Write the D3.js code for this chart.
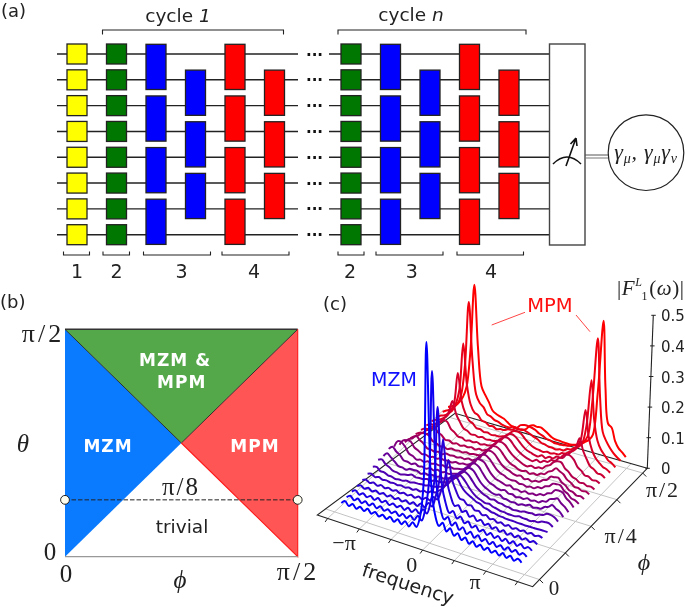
<!DOCTYPE html>
<html><head><meta charset="utf-8">
<script src="https://cdn.jsdelivr.net/npm/d3@7"></script>
<style>
html,body{margin:0;padding:0;background:#fff}
svg{display:block;filter:blur(0.3px)}
text{font-family:"DejaVu Sans",sans-serif;fill:#222}
.m{font-family:"Liberation Serif",serif}
</style></head><body><svg id="c" width="685" height="609"></svg>
<script>
// ---------- data ----------
const wires = [0,1,2,3,4,5,6,7];
const stepLabels = ["1","2","3","4"];
const cycleLabels = ["1","n"];
const thetaTicks = ["0","π/2"];
const regions = ["MZM","MZM & MPM","MPM","trivial"];
const zTicks = [0,0.1,0.2,0.3,0.4,0.5];
const freqTicks = [-1.5,-1,-0.5,0,0.5,1,1.5];       // units of pi
const phiTicks = [0,0.25,0.5,0.75,1];               // units of pi/2
const rowPhi = [0.02,0.071,0.122,0.173,0.224,0.275,0.326,0.377,0.428,0.479,0.53,0.581,0.632,0.683,0.734,0.785,0.836,0.887,0.938,0.989,1.04];
// |F| amplitude in thousandths, front (phi small) to back; samples run over frequency -1.42pi..1.42pi
const spectra = [
[28,38,26,37,25,36,26,37,25,35,24,34,24,35,23,35,23,37,24,42,30,68,180,647,190,90,58,72,48,62,42,54,36,48,32,44,30,41,28,39,27,37,26,38,26,37,25,35,26],
[30,39,28,38,27,37,27,38,26,37,26,35,26,36,25,36,26,39,28,46,34,76,165,535,170,95,62,74,50,64,44,56,38,50,34,46,31,42,29,40,28,38,27,39,28,38,27,36,28],
[32,40,30,39,30,38,29,39,29,38,28,37,29,38,28,39,29,42,32,50,40,80,150,400,155,95,66,76,56,66,48,58,42,52,37,47,34,44,32,42,30,41,30,41,30,40,30,38,30],
[34,40,33,40,32,39,32,39,31,39,31,38,31,39,31,40,32,44,36,54,46,84,140,278,145,98,72,78,60,68,52,60,46,54,41,49,37,46,35,44,33,42,33,42,33,41,33,40,33],
[37,42,35,41,34,40,34,39,34,39,33,39,34,40,34,42,37,46,42,56,52,84,125,193,130,100,78,78,66,68,56,58,48,52,43,47,39,44,37,43,35,41,36,41,35,41,35,40,36],
[41,45,38,42,37,39,36,38,35,38,35,39,36,41,38,44,42,50,50,60,70,92,115,125,118,98,84,76,70,62,60,52,50,45,44,40,40,38,38,38,37,37,36,37,37,37,38,38,38],
[48,51,41,41,35,35,31,33,33,37,35,39,39,41,41,45,45,48,52,58,68,88,106,112,104,90,74,62,54,50,45,47,41,39,35,35,33,33,33,37,35,35,33,37,37,43,45,45,37],
[54,59,47,41,33,32,29,33,35,40,35,37,37,41,39,44,45,46,50,56,66,84,100,104,98,84,68,58,50,46,40,43,37,37,33,33,29,31,31,35,35,37,35,41,43,51,51,47,37],
[50,63,53,43,32,32,28,35,35,36,30,36,34,38,36,40,38,42,46,50,60,80,96,99,94,78,62,52,46,40,38,42,34,34,30,32,28,34,34,40,34,38,38,48,52,62,54,48,34],
[57,68,56,48,34,34,30,36,30,33,30,36,32,38,34,38,36,40,44,48,58,78,92,96,90,74,58,48,44,38,36,40,32,34,28,32,30,36,32,36,34,42,44,56,60,66,54,46,32],
[48,70,70,58,40,36,28,32,28,34,30,34,32,36,32,38,36,40,42,46,56,76,90,92,88,72,56,46,42,38,34,38,30,32,28,34,30,34,32,40,40,50,54,68,70,68,52,44,30],
[38,56,60,60,44,38,30,32,28,32,30,34,32,34,32,38,36,40,40,46,54,74,88,90,82,68,54,46,42,36,34,36,30,32,28,32,30,38,38,48,52,64,66,66,52,46,34,32,24],
[30,44,50,62,52,44,32,32,28,32,28,34,32,34,32,36,34,40,38,44,52,72,84,86,80,66,52,44,40,34,32,36,28,32,28,34,34,44,48,62,64,66,54,48,36,34,26,28,22],
[26,36,42,54,58,54,40,36,30,32,28,34,32,34,32,36,34,38,38,42,50,70,82,84,78,64,50,42,38,32,30,34,28,34,32,40,42,54,60,72,66,60,46,40,30,30,24,26,20],
[24,32,36,48,54,64,52,46,34,36,30,34,30,34,32,36,32,38,36,42,50,68,80,82,76,62,50,42,36,30,28,34,30,36,36,48,54,68,74,74,58,50,38,34,26,28,22,24,18],
[22,30,32,44,48,66,76,74,54,46,36,36,30,34,32,36,32,36,36,40,48,66,76,80,74,60,48,40,34,30,28,36,32,40,40,50,50,64,68,82,82,72,52,44,32,32,24,26,20],
[20,28,30,40,46,64,84,125,86,64,46,42,34,36,32,36,32,34,34,38,44,60,70,74,68,56,44,36,32,28,26,34,28,36,34,44,44,58,62,76,90,125,88,64,44,38,28,28,20],
[18,26,30,38,48,68,98,200,113,76,56,50,38,38,32,34,30,32,32,36,40,54,64,66,62,50,40,32,28,26,24,28,26,30,30,38,40,50,56,70,103,200,118,76,54,42,32,28,20],
[16,24,28,38,50,76,128,280,148,88,66,60,46,44,36,38,32,36,36,42,44,52,52,56,52,48,42,38,30,28,24,24,22,26,26,34,36,46,52,68,128,280,153,90,64,50,36,30,20],
[16,24,30,42,56,90,188,400,213,105,80,70,50,46,38,36,30,28,28,34,34,46,50,50,48,44,36,32,26,24,20,20,20,22,24,30,34,44,52,72,188,400,213,100,74,56,42,32,24],
[16,22,30,42,62,100,220,440,240,115,90,70,46,38,34,30,22,14,12,10,10,16,30,36,34,36,30,22,14,10,10,8,8,8,10,14,20,30,40,60,200,440,225,110,100,60,40,30,18]
];

const svg = d3.select("#c");
const ink = "#222";
function label(x,y,t,size,opts={}){
  const e = svg.append("text").attr("x",x).attr("y",y).attr("font-size",size).text(t);
  if(opts.cls) e.attr("class",opts.cls);
  e.attr("text-anchor",opts.anchor||"middle");
  if(opts.italic) e.attr("font-style","italic");
  if(opts.weight) e.attr("font-weight",opts.weight);
  if(opts.fill) e.style("fill",opts.fill);
  if(opts.ls) e.attr("letter-spacing",opts.ls);
  if(opts.rot) e.attr("transform",`rotate(${opts.rot} ${x} ${y})`);
  return e;
}

// ---------- (a) circuit ----------
label(1,17,"(a)",18,{anchor:"start"});
const wy = d3.scaleLinear().domain([0,7]).range([54,234.7]);
const wireLeft = 57;
const a = svg.append("g");
a.selectAll(".w1").data(wires).join("line").attr("x1",wireLeft).attr("x2",298).attr("y1",wy).attr("y2",wy).attr("stroke",ink).attr("stroke-width",1.4);
a.selectAll(".w2").data(wires).join("line").attr("x1",329).attr("x2",549).attr("y1",wy).attr("y2",wy).attr("stroke",ink).attr("stroke-width",1.4);
wires.forEach(w=>label(314.5,wy(w)+1,"···",15,{weight:"bold",fill:"#111"}).attr("dominant-baseline","middle"));
const slot1 = d3.scaleLinear().domain([0,5]).range([77,274.5]);
const slot2 = d3.scaleLinear().domain([1,5]).range([351,509]);
function gates(xc,color,pairs){
  pairs.forEach(p=>{
    const y0 = p.length===1 ? wy(p[0])-10 : wy(p[0])-9.7;
    const y1 = p.length===1 ? wy(p[0])+10 : wy(p[1])+9.7;
    a.append("rect").attr("x",xc-10).attr("width",20).attr("y",y0).attr("height",y1-y0)
      .attr("fill",color).attr("stroke","#222").attr("stroke-width",1.3);
  });
}
const singles = wires.map(w=>[w]);
const evenPairs=[[0,1],[2,3],[4,5],[6,7]], oddPairs=[[1,2],[3,4],[5,6]];
gates(slot1(0),"#ffff00",singles);
gates(slot1(1),"#007700",singles);
gates(slot1(2),"#0000ff",evenPairs);
gates(slot1(3),"#0000ff",oddPairs);
gates(slot1(4),"#ff0000",evenPairs);
gates(slot1(5),"#ff0000",oddPairs);
gates(slot2(1),"#007700",singles);
gates(slot2(2),"#0000ff",evenPairs);
gates(slot2(3),"#0000ff",oddPairs);
gates(slot2(4),"#ff0000",evenPairs);
gates(slot2(5),"#ff0000",oddPairs);

function bracketTop(x0,x1,y){a.append("path").attr("d",`M${x0},${y+4.5}V${y}H${x1}V${y+4.5}`).attr("fill","none").attr("stroke",ink).attr("stroke-width",1.1);}
function bracketBot(x0,x1,y){a.append("path").attr("d",`M${x0},${y-3.5}V${y}H${x1}V${y-3.5}`).attr("fill","none").attr("stroke",ink).attr("stroke-width",1.1);}
bracketTop(102.5,283.5,30); bracketTop(338,526,30);
[[63.5,89.5,77,0],[103,129.5,116.5,1],[143.5,210.5,181.5,2],[222,289,254,3],[338,364,350,1],[376,443,411.7,2],[457,523.5,491,3]]
 .forEach(b=>{bracketBot(b[0],b[1],255); label(b[2],277.5,stepLabels[b[3]],19);});
const c1=label(178,22,"cycle ",18.5); c1.append("tspan").attr("font-style","italic").text(cycleLabels[0]);
const c2=label(411,21,"cycle ",18.5); c2.append("tspan").attr("font-style","italic").text(cycleLabels[1]);

a.append("rect").attr("x",549.5).attr("y",44).attr("width",35.5).attr("height",201).attr("fill","#fff").attr("stroke","#444").attr("stroke-width",1.4);
a.append("path").attr("d","M553,164Q567,150 581,164").attr("fill","none").attr("stroke","#111").attr("stroke-width",1.6);
a.append("path").attr("d","M566,166L576,138M576,138L570.5,144M576,138L577,146").attr("fill","none").attr("stroke","#111").attr("stroke-width",1.6);
a.append("line").attr("x1",585).attr("x2",608).attr("y1",155).attr("y2",155).attr("stroke","#555").attr("stroke-width",1);
a.append("line").attr("x1",585).attr("x2",608).attr("y1",158).attr("y2",158).attr("stroke","#777").attr("stroke-width",1);
a.append("circle").attr("cx",646).attr("cy",152.7).attr("r",37.8).attr("fill","#fff").attr("stroke","#222").attr("stroke-width",1.2);
const gam = label(646,159,"",22,{cls:"m",ls:0.8});
[["γ",0],["μ",1],[", γ",0],["μ",1],["γ",0],["ν",1]].forEach((s,i)=>{
  const t=gam.append("tspan").text(s[0]).attr("font-style","italic");
  if(s[1]){t.attr("font-size",14).attr("dy",4);}
  else if(i>0){t.attr("dy",-4);}
});

// ---------- (b) phase diagram ----------
label(0,308,"(b)",18,{anchor:"start"});
const px = d3.scaleLinear().domain([0,1]).range([65,297.7]);
const py = d3.scaleLinear().domain([0,1]).range([556.7,329.3]);
const line2 = d3.line().x(d=>px(d[0])).y(d=>py(d[1]));
const tri = [
 {f:"#0a7bff",p:[[0,0],[0.5,0.5],[0,1]]},
 {f:"#55a84a",p:[[0,1],[1,1],[0.5,0.5]]},
 {f:"#ff5555",p:[[1,0],[0.5,0.5],[1,1]]}];
svg.selectAll(".tri").data(tri).join("path").attr("d",d=>line2(d.p)+"Z").attr("fill",d=>d.f);
svg.append("path").attr("d",line2([[0,1],[1,1]])).attr("stroke","#333").attr("stroke-width",1.6).attr("fill","none");
svg.append("path").attr("d",line2([[0,1],[0.5,0.5],[1,1]])).attr("stroke","#222").attr("stroke-width",0.9).attr("fill","none");
svg.append("path").attr("d",line2([[0.5,0.5],[1,0],[1,1]])).attr("stroke","#ff1a1a").attr("stroke-width",1.1).attr("fill","none");
svg.append("path").attr("d",line2([[0,0],[1,0]])).attr("stroke","#999").attr("stroke-width",1.2).attr("fill","none");
svg.append("line").attr("x1",px(0)).attr("x2",px(1)).attr("y1",py(0.25)).attr("y2",py(0.25)).attr("stroke","#222").attr("stroke-width",1).attr("stroke-dasharray","4.5 2");
[0,1].forEach(v=>svg.append("circle").attr("cx",px(v)).attr("cy",py(0.25)).attr("r",4.4).attr("fill","#fffff0").attr("stroke","#222").attr("stroke-width",1));
const bw={weight:"bold",fill:"#fff",ls:1};
label(108,451.7,"MZM",17,bw); label(255,451.7,"MPM",17,bw);
label(175,366,"MZM &",17,bw); label(181.7,388,"MPM",17,bw);
label(182,533,regions[3],18.5);
label(181,495,"π/8",25,{cls:"m",ls:2});
label(43,341.7,thetaTicks[1],26,{cls:"m",ls:3});
label(50,560,thetaTicks[0],25,{cls:"m"});
label(23,452,"θ",25,{cls:"m",italic:true});
label(66,581.7,"0",25,{cls:"m"});
label(298,580,"π/2",26,{cls:"m",ls:3});
label(180,588,"ϕ",25,{cls:"m",italic:true});

// ---------- (c) waterfall ----------
label(323,310,"(c)",18,{anchor:"start"});
const FL=[317.3,515],FR=[532.7,586.7],BL=[455,413.3],BR=[647.3,468.3];
function floor(u,v){
  const fx=FL[0]+(FR[0]-FL[0])*u, fy=FL[1]+(FR[1]-FL[1])*u;
  const bx=BL[0]+(BR[0]-BL[0])*u, by=BL[1]+(BR[1]-BL[1])*u;
  return [fx+(bx-fx)*v, fy+(by-fy)*v];
}
const vOf = d3.scaleLinear().domain([0,1]).range([0.06,0.96]);
const cOf = d3.scaleLinear().domain([0,1]).range([0.489,0.428]);
const kOf = d3.scaleLinear().domain([0,1]).range([0.294,0.325]);
function freqU(w,v){return cOf(v)+w*kOf(v);}
const z = d3.scaleLinear().domain([0,0.5]).range([0,153]);
const tiltOf = d3.scaleLinear().domain([460,647.3]).range([0,0.039]);
function proj(w,phi,val){
  const v=vOf(phi), p=floor(freqU(w,v),v), h=z(val);
  return [p[0]+h*tiltOf(p[0]),p[1]-h];
}
const g=svg.append("g");
phiTicks.forEach(ph=>{const v=vOf(ph),a1=floor(0,v),b1=floor(1,v);
  g.append("line").attr("x1",a1[0]).attr("y1",a1[1]).attr("x2",b1[0]).attr("y2",b1[1]).attr("stroke","#c4c4c4").attr("stroke-width",1);
  g.append("line").attr("x1",b1[0]).attr("y1",b1[1]).attr("x2",b1[0]+3.5).attr("y2",b1[1]+3.5).attr("stroke","#222").attr("stroke-width",1);
});
freqTicks.forEach(w=>{const a1=floor(freqU(w,0),0),b1=floor(freqU(w,1),1);
  g.append("line").attr("x1",a1[0]).attr("y1",a1[1]).attr("x2",b1[0]).attr("y2",b1[1]).attr("stroke","#c4c4c4").attr("stroke-width",1);
  g.append("line").attr("x1",a1[0]).attr("y1",a1[1]).attr("x2",a1[0]-2.5).attr("y2",a1[1]+3.5).attr("stroke","#222").attr("stroke-width",1);
});
g.append("path").attr("d","M"+[FL,FR,BR,BL].join("L")+"Z").attr("fill","none").attr("stroke","#222").attr("stroke-width",1.1);
const top5=[BR[0]+6,BR[1]-153];
g.append("line").attr("x1",BR[0]).attr("y1",BR[1]).attr("x2",top5[0]).attr("y2",top5[1]).attr("stroke","#222").attr("stroke-width",1.1);
zTicks.forEach(t=>{const y=BR[1]-z(t), x=BR[0]+z(t)*0.039;
  g.append("line").attr("x1",x-2).attr("x2",x+2.5).attr("y1",y).attr("y2",y).attr("stroke","#222").attr("stroke-width",1);
  label(661,y+6,d3.format(t===0?"d":".1f")(t),15,{anchor:"start"});
});
const nS = spectra[0].length;
const wOf = d3.scaleLinear().domain([0,nS-1]).range([-1.42,1.42]);
const colour = d3.scaleLinear().domain([0,spectra.length-1]).range(["#0000ff","#ff0000"]);
const curve = d3.line().curve(d3.curveCatmullRom.alpha(0.5));
d3.range(spectra.length-1,-1,-1).forEach(r=>{
  g.append("path").attr("d",curve(spectra[r].map((val,i)=>proj(wOf(i),rowPhi[r],val/1000))))
   .attr("fill","none").attr("stroke",colour(r)).attr("stroke-width",2).attr("stroke-linejoin","round");
});
label(550,312,"MPM",19.5,{fill:"#ff1010"});
label(394,386,"MZM",19,{fill:"#1010ff"});
svg.append("line").attr("x1",491.7).attr("y1",325).attr("x2",525).attr("y2",312.3).attr("stroke","#ff3030").attr("stroke-width",0.9);
svg.append("line").attr("x1",576).attr("y1",315).attr("x2",590).attr("y2",331.7).attr("stroke","#ff3030").attr("stroke-width",0.9);
const ttl=label(617,295,"|",21,{cls:"m",anchor:"start",ls:0.6});
ttl.append("tspan").attr("font-style","italic").text("F");
ttl.append("tspan").attr("font-style","italic").attr("font-size",12).attr("dy",-9).text("L");
ttl.append("tspan").attr("font-size",12).attr("dy",14).attr("dx",-1).text("1");
ttl.append("tspan").attr("dy",-5).attr("dx",1).text("(");
ttl.append("tspan").attr("font-style","italic").text("ω");
ttl.append("tspan").text(")|");
label(344,550,"−π",22,{cls:"m"});
label(411.7,571.7,"0",22,{cls:"m"});
label(475,589,"π",22,{cls:"m"});
label(554,595,"0",21,{cls:"m"});
label(621.7,543,"π/4",22,{cls:"m",ls:2});
label(663,496.7,"π/2",22,{cls:"m",ls:2});
label(644,570,"ϕ",24,{cls:"m",italic:true});
label(406,590,"frequency",19,{rot:18});
</script></body></html>
